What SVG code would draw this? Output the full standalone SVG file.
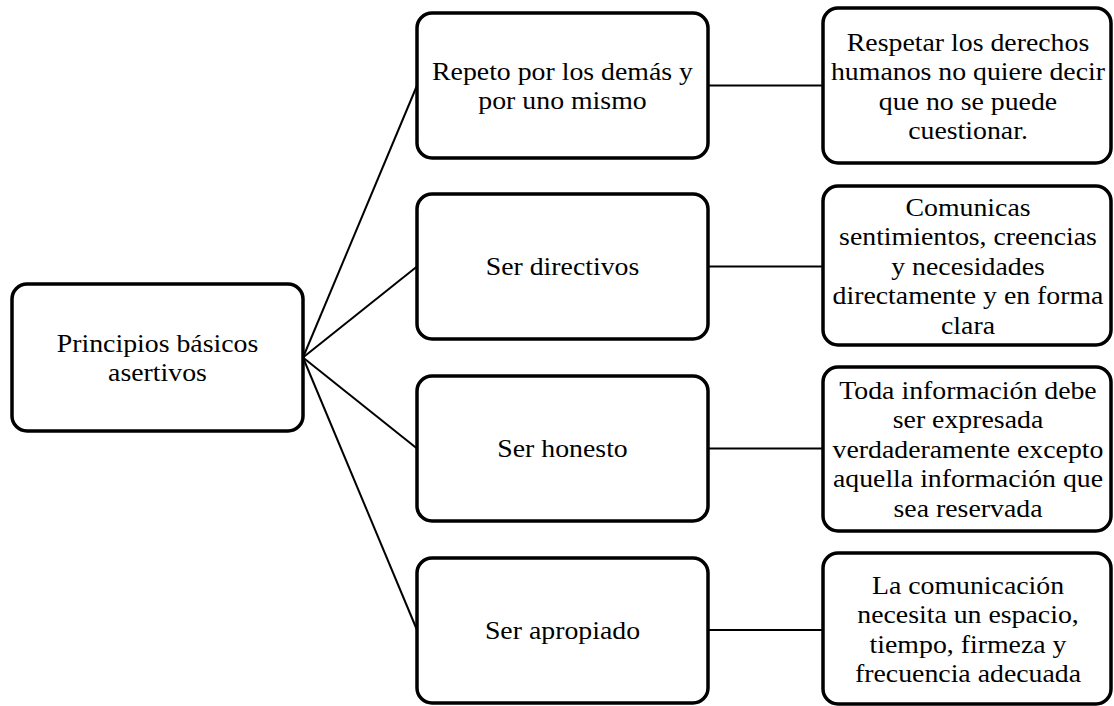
<svg xmlns="http://www.w3.org/2000/svg" width="1114" height="706" viewBox="0 0 1114 706">
<style>
.box{fill:#fff;stroke:#000;stroke-width:3.5}
.t{font-family:"Liberation Serif","Times New Roman",serif;font-size:26px;fill:#000;text-anchor:middle}
.c{stroke:#000;stroke-width:2;fill:none}
</style>
<rect width="1114" height="706" fill="#fff"/>
<g id="connectors">
<line class="c" x1="303" y1="357.5" x2="417" y2="85.5"/>
<line class="c" x1="303" y1="357.5" x2="417" y2="266.5"/>
<line class="c" x1="303" y1="357.5" x2="417" y2="448.5"/>
<line class="c" x1="303" y1="357.5" x2="417" y2="630"/>
<line class="c" x1="708" y1="85.5" x2="823" y2="85.5"/>
<line class="c" x1="708" y1="266.5" x2="823" y2="266.5"/>
<line class="c" x1="708" y1="448.5" x2="823" y2="448.5"/>
<line class="c" x1="708" y1="630" x2="823" y2="630"/>
</g>
<g id="root">
<rect class="box" x="12" y="284" width="291" height="147" rx="15"/>
<g transform="translate(157.5,0) scale(1.07,1)">
<text class="t" x="0" y="352">Principios básicos</text>
<text class="t" x="0" y="381.5">asertivos</text>
</g>
</g>
<g id="m1">
<rect class="box" x="417" y="13" width="291" height="145" rx="15"/>
<g transform="translate(562.5,0) scale(1.07,1)">
<text class="t" x="0" y="80">Repeto por los demás y</text>
<text class="t" x="0" y="109">por uno mismo</text>
</g>
</g>
<g id="m2">
<rect class="box" x="417" y="194" width="291" height="145" rx="15"/>
<g transform="translate(562.5,0) scale(1.07,1)">
<text class="t" x="0" y="275">Ser directivos</text>
</g>
</g>
<g id="m3">
<rect class="box" x="417" y="376" width="291" height="145" rx="15"/>
<g transform="translate(562.5,0) scale(1.07,1)">
<text class="t" x="0" y="457.5">Ser honesto</text>
</g>
</g>
<g id="m4">
<rect class="box" x="417" y="558" width="291" height="145" rx="15"/>
<g transform="translate(562.5,0) scale(1.07,1)">
<text class="t" x="0" y="639">Ser apropiado</text>
</g>
</g>
<g id="r1">
<rect class="box" x="823" y="8" width="288" height="155" rx="15"/>
<g transform="translate(968,0) scale(1.07,1)">
<text class="t" x="0" y="51">Respetar los derechos</text>
<text class="t" x="0" y="80.5">humanos no quiere decir</text>
<text class="t" x="0" y="110">que no se puede</text>
<text class="t" x="0" y="139.5">cuestionar.</text>
</g>
</g>
<g id="r2">
<rect class="box" x="823" y="186" width="288" height="159" rx="15"/>
<g transform="translate(968,0) scale(1.07,1)">
<text class="t" x="0" y="216">Comunicas</text>
<text class="t" x="0" y="245.5">sentimientos, creencias</text>
<text class="t" x="0" y="275">y necesidades</text>
<text class="t" x="0" y="304.5">directamente y en forma</text>
<text class="t" x="0" y="334">clara</text>
</g>
</g>
<g id="r3">
<rect class="box" x="823" y="367" width="288" height="164" rx="15"/>
<g transform="translate(968,0) scale(1.07,1)">
<text class="t" x="0" y="399">Toda información debe</text>
<text class="t" x="0" y="428.5">ser expresada</text>
<text class="t" x="0" y="458">verdaderamente excepto</text>
<text class="t" x="0" y="487.5">aquella información que</text>
<text class="t" x="0" y="517">sea reservada</text>
</g>
</g>
<g id="r4">
<rect class="box" x="823" y="553" width="288" height="151" rx="15"/>
<g transform="translate(968,0) scale(1.07,1)">
<text class="t" x="0" y="594">La comunicación</text>
<text class="t" x="0" y="623.5">necesita un espacio,</text>
<text class="t" x="0" y="653">tiempo, firmeza y</text>
<text class="t" x="0" y="682.5">frecuencia adecuada</text>
</g>
</g>
</svg>
